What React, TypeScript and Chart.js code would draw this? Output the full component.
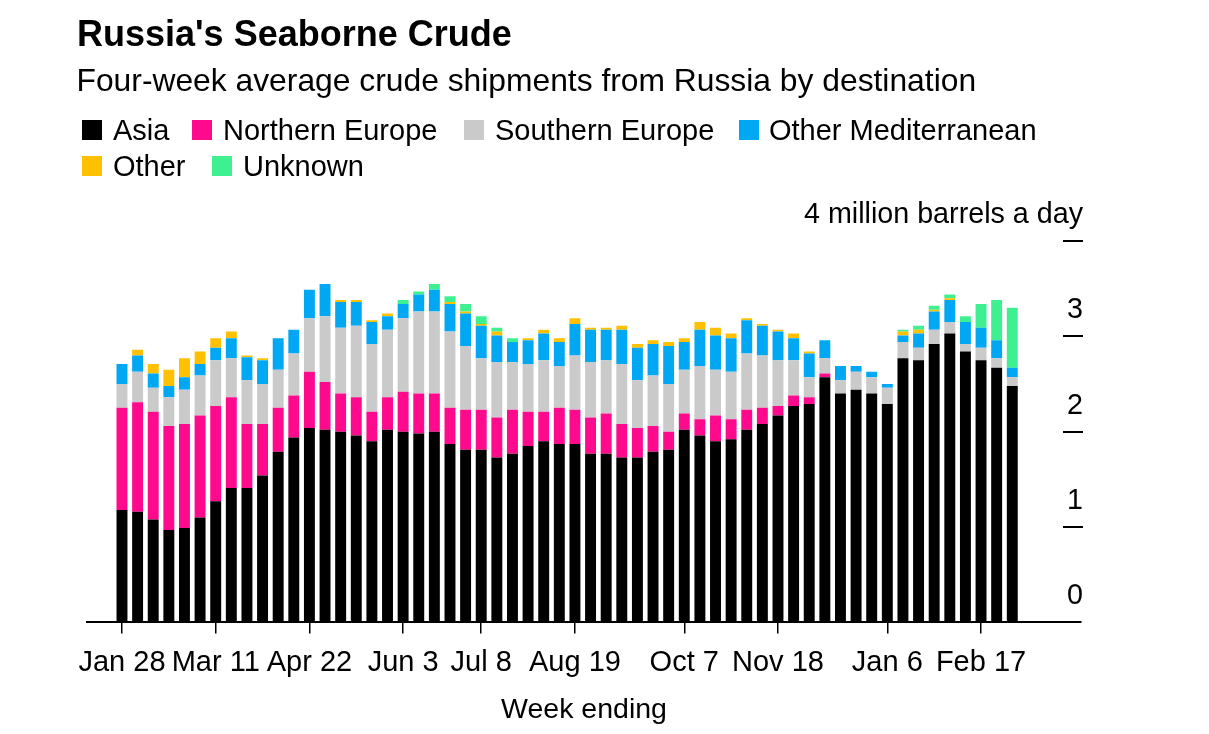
import React, { useEffect, useRef } from "react";
import { Chart, registerables } from "chart.js";

Chart.register(...registerables);

const FONT = '"Liberation Sans", Arial, Helvetica, sans-serif';

// Week ending dates (Jan 28, 2022 .. Mar 3, 2023)
const weeks = [
  "Jan 28", "Feb 4", "Feb 11", "Feb 18", "Feb 25", "Mar 4", "Mar 11", "Mar 18", "Mar 25", "Apr 1",
  "Apr 8", "Apr 15", "Apr 22", "Apr 29", "May 6", "May 13", "May 20", "May 27", "Jun 3", "Jun 10",
  "Jun 17", "Jun 24", "Jul 1", "Jul 8", "Jul 15", "Jul 22", "Jul 29", "Aug 5", "Aug 12", "Aug 19",
  "Aug 26", "Sep 2", "Sep 9", "Sep 16", "Sep 23", "Sep 30", "Oct 7", "Oct 14", "Oct 21", "Oct 28",
  "Nov 4", "Nov 11", "Nov 18", "Nov 25", "Dec 2", "Dec 9", "Dec 16", "Dec 23", "Dec 30", "Jan 6",
  "Jan 13", "Jan 20", "Jan 27", "Feb 3", "Feb 10", "Feb 17", "Feb 24", "Mar 3",
];

// Million barrels a day, four-week average
const asia = [
  1.18, 1.16, 1.08, 0.97, 0.99, 1.10, 1.27, 1.41, 1.41, 1.54, 1.79, 1.94,
  2.04, 2.02, 2.00, 1.96, 1.90, 2.02, 2.00, 1.98, 2.00, 1.87, 1.81, 1.81,
  1.73, 1.77, 1.85, 1.90, 1.87, 1.87, 1.77, 1.77, 1.73, 1.73, 1.79, 1.81,
  2.02, 1.96, 1.90, 1.92, 2.02, 2.08, 2.17, 2.27, 2.29, 2.57, 2.40, 2.44,
  2.40, 2.29, 2.77, 2.75, 2.92, 3.03, 2.84, 2.75, 2.67, 2.48,
];
const northernEurope = [
  1.07, 1.15, 1.13, 1.09, 1.09, 1.07, 1.00, 0.95, 0.67, 0.54, 0.46, 0.44,
  0.59, 0.50, 0.40, 0.40, 0.31, 0.34, 0.42, 0.42, 0.40, 0.38, 0.42, 0.42,
  0.42, 0.46, 0.36, 0.31, 0.38, 0.36, 0.38, 0.42, 0.35, 0.31, 0.27, 0.19,
  0.17, 0.17, 0.27, 0.21, 0.21, 0.17, 0.10, 0.11, 0.07, 0.04, 0, 0,
  0, 0, 0, 0, 0, 0, 0, 0, 0, 0,
];
const southernEurope = [
  0.25, 0.32, 0.25, 0.30, 0.36, 0.42, 0.48, 0.41, 0.46, 0.42, 0.40, 0.44,
  0.56, 0.69, 0.69, 0.75, 0.71, 0.71, 0.77, 0.86, 0.86, 0.80, 0.67, 0.54,
  0.58, 0.50, 0.50, 0.54, 0.44, 0.57, 0.58, 0.56, 0.63, 0.50, 0.53, 0.50,
  0.46, 0.56, 0.48, 0.50, 0.59, 0.55, 0.48, 0.37, 0.21, 0.16, 0.14, 0.19,
  0.17, 0.17, 0.17, 0.13, 0.15, 0.12, 0.08, 0.13, 0.10, 0.09,
];
const otherMediterranean = [
  0.21, 0.17, 0.15, 0.12, 0.13, 0.12, 0.13, 0.21, 0.24, 0.25, 0.33, 0.25,
  0.30, 0.34, 0.27, 0.25, 0.23, 0.14, 0.15, 0.18, 0.23, 0.29, 0.34, 0.34,
  0.28, 0.21, 0.25, 0.28, 0.25, 0.33, 0.34, 0.32, 0.36, 0.34, 0.33, 0.40,
  0.29, 0.38, 0.36, 0.35, 0.35, 0.31, 0.30, 0.23, 0.25, 0.19, 0.15, 0.06,
  0.06, 0.04, 0.07, 0.15, 0.19, 0.23, 0.23, 0.21, 0.19, 0.10,
];
const other = [
  0, 0.06, 0.10, 0.17, 0.20, 0.13, 0.10, 0.07, 0.02, 0.02, 0, 0,
  0, 0, 0.02, 0.02, 0.02, 0.03, 0, 0, 0, 0.02, 0.02, 0.02,
  0.04, 0, 0.02, 0.04, 0.04, 0.06, 0.02, 0.02, 0.04, 0.04, 0.04, 0.04,
  0.04, 0.08, 0.08, 0.05, 0.02, 0.02, 0.02, 0.05, 0.02, 0, 0, 0,
  0, 0, 0.04, 0.04, 0.02, 0.02, 0, 0, 0, 0,
];
const unknown = [
  0, 0, 0, 0, 0, 0, 0, 0, 0, 0, 0, 0,
  0, 0, 0, 0, 0, 0, 0.04, 0.03, 0.06, 0.06, 0.08, 0.08,
  0.04, 0.04, 0, 0, 0, 0, 0, 0, 0, 0, 0, 0,
  0, 0, 0, 0, 0, 0, 0, 0, 0, 0, 0, 0,
  0, 0, 0.02, 0.04, 0.04, 0.04, 0.06, 0.25, 0.42, 0.63,
];

const seriesNames = ["Asia", "Northern Europe", "Southern Europe", "Other Mediterranean", "Other", "Unknown"];
const seriesValues = [asia, northernEurope, southernEurope, otherMediterranean, other, unknown];
const seriesColors = ["#000000", "#ff0a8c", "#cacaca", "#00a8f3", "#ffc000", "#3ef08f"];

const xTickWeeks = ["Jan 28", "Mar 11", "Apr 22", "Jun 3", "Jul 8", "Aug 19", "Oct 7", "Nov 18", "Jan 6", "Feb 17"];
const xTickIndex = xTickWeeks.map((w, k) => weeks.indexOf(w, k < 8 ? 0 : 40));
const yTickValues = [0, 1, 2, 3, 4];
const yTickLabels = ["0", "1", "2", "3", "4 million barrels a day"];

const rightTicksPlugin = {
  id: "rightTicks",
  afterDraw(chart: any) {
    const ctx = chart.ctx;
    const y = chart.scales.y;
    const right = chart.chartArea.right;
    ctx.save();
    ctx.fillStyle = "#000";
    ctx.strokeStyle = "#000";
    ctx.lineWidth = 2;
    ctx.font = `28.7px ${FONT}`;
    ctx.textAlign = "right";
    ctx.textBaseline = "alphabetic";
    yTickValues.forEach((v, i) => {
      const py = Math.round(y.getPixelForValue(v));
      if (v !== 0) {
        ctx.beginPath();
        ctx.moveTo(right - 18, py);
        ctx.lineTo(right + 2, py);
        ctx.stroke();
      }
      ctx.fillText(yTickLabels[i], right + 2, py - 18);
    });
    ctx.restore();
  },
};

const legendPos = [
  { sx: 82, tx: 113, row: 0 },
  { sx: 192, tx: 223, row: 0 },
  { sx: 464, tx: 495, row: 0 },
  { sx: 739, tx: 769, row: 0 },
  { sx: 82, tx: 113, row: 1 },
  { sx: 212, tx: 243, row: 1 },
];

export default function App() {
  const canvasRef = useRef<HTMLCanvasElement | null>(null);

  useEffect(() => {
    if (!canvasRef.current) return;
    const datasets = seriesNames.map((name, s) => ({
      label: name,
      data: seriesValues[s].map((v, i) => ({ x: i, y: v })),
      backgroundColor: seriesColors[s],
      borderWidth: 0,
      barPercentage: 0.7,
      categoryPercentage: 1,
    }));
    const chart = new Chart(canvasRef.current, {
      type: "bar",
      data: { datasets },
      plugins: [rightTicksPlugin],
      options: {
        animation: false,
        responsive: false,
        devicePixelRatio: 1,
        layout: { padding: { left: 87, right: 128, top: 241, bottom: 6.6 } },
        plugins: {
          legend: { display: false },
          tooltip: { enabled: false },
          title: { display: false },
        },
        scales: {
          x: {
            type: "linear",
            stacked: true,
            offset: false,
            min: -2.24,
            max: 61.4,
            afterBuildTicks: (scale: any) => {
              scale.ticks = xTickIndex.map((v) => ({ value: v }));
            },
            grid: {
              display: true,
              offset: false,
              drawOnChartArea: false,
              drawTicks: true,
              tickLength: 11,
              color: "#000",
              lineWidth: 1.5,
            },
            border: { display: true, color: "#000", width: 2 },
            ticks: {
              autoSkip: false,
              maxRotation: 0,
              minRotation: 0,
              padding: 12.5,
              color: "#000",
              font: { family: FONT, size: 29 },
              callback: (value: any) => {
                const k = xTickIndex.indexOf(Number(value));
                return k >= 0 ? xTickWeeks[k] : "";
              },
            },
            title: {
              display: true,
              text: "Week ending",
              color: "#000",
              font: { family: FONT, size: 28.5 },
              padding: { top: 0, bottom: 0 },
            },
          },
          y: {
            display: false,
            stacked: true,
            min: 0,
            max: 4,
          },
        },
      },
    } as any);
    return () => chart.destroy();
  }, []);

  return (
    <div
      style={{
        position: "fixed",
        left: 0,
        top: 0,
        width: 1209,
        height: 734,
        background: "#fff",
        fontFamily: FONT,
        color: "#000",
        overflow: "hidden",
      }}
    >
      <canvas ref={canvasRef} width={1209} height={734} style={{ position: "absolute", left: 0, top: 0 }} />
      <div style={{ position: "absolute", left: 77, top: 15.5, fontSize: 36, fontWeight: 700, lineHeight: 1, whiteSpace: "nowrap" }}>
        Russia's Seaborne Crude
      </div>
      <div style={{ position: "absolute", left: 76.5, top: 64.5, fontSize: 31.8, lineHeight: 1, whiteSpace: "nowrap" }}>
        Four-week average crude shipments from Russia by destination
      </div>
      {seriesNames.map((name, i) => {
        const p = legendPos[i];
        const rowTop = p.row === 0 ? 120 : 156;
        return (
          <React.Fragment key={name}>
            <div
              style={{
                position: "absolute",
                left: p.sx,
                top: rowTop,
                width: 20,
                height: 20,
                background: seriesColors[i],
              }}
            />
            <div
              style={{
                position: "absolute",
                left: p.tx,
                top: rowTop - 4.5,
                fontSize: 29,
                lineHeight: 1,
                whiteSpace: "nowrap",
              }}
            >
              {name}
            </div>
          </React.Fragment>
        );
      })}
    </div>
  );
}
